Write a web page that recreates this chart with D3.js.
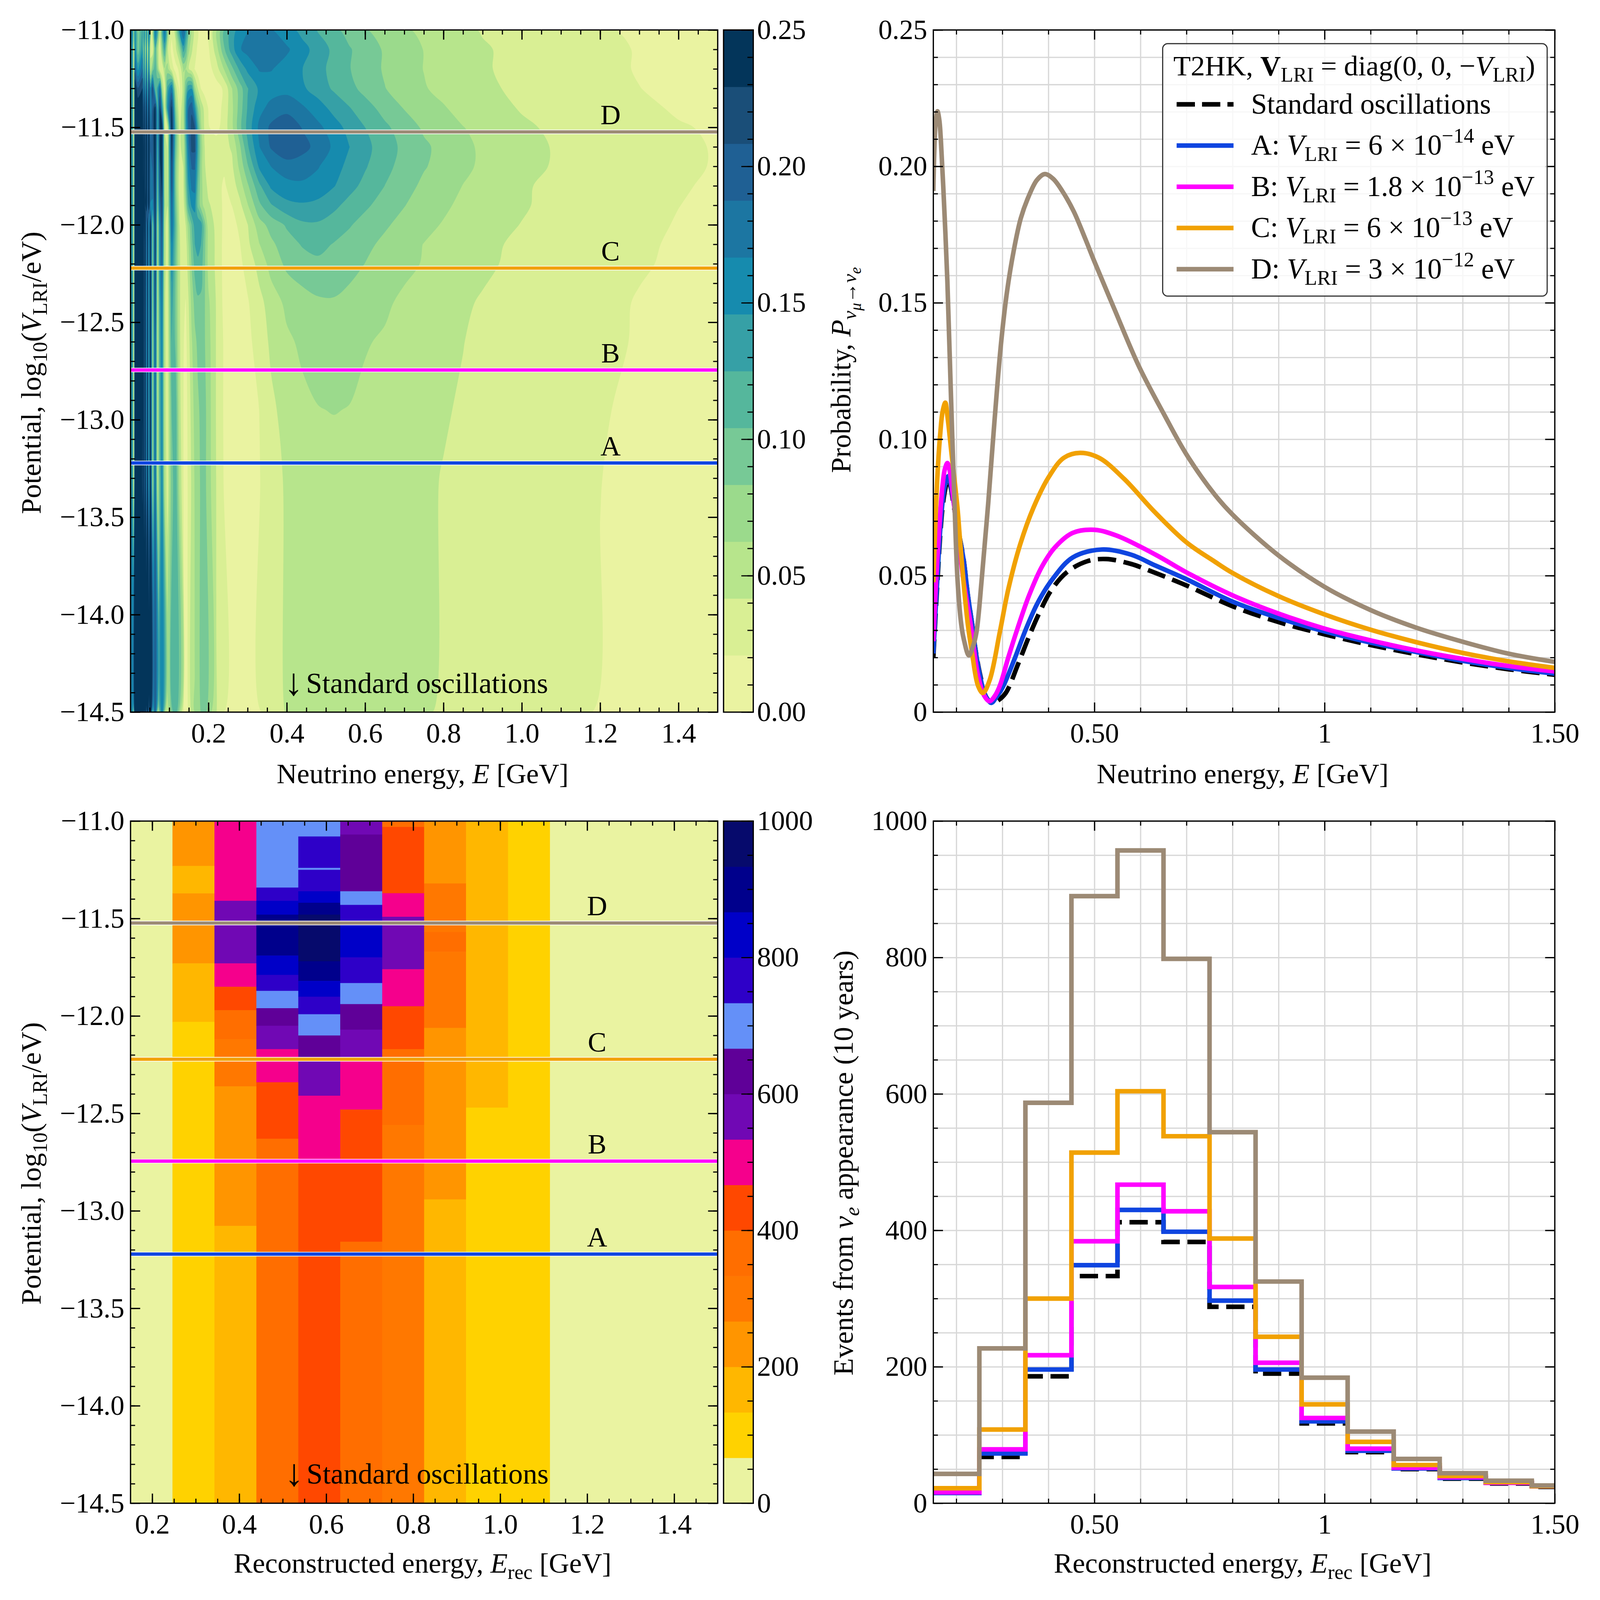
<!DOCTYPE html>
<html>
<head>
<meta charset="utf-8">
<script src="https://d3js.org/d3.v7.min.js"></script>
<style>
html, body { margin: 0; padding: 0; background: #fff; overflow: hidden; }
svg { display: block; width: 100vmin; height: 100vmin; }
text { font-family: "Liberation Serif", serif; fill: #000; }
</style>
</head>
<body>
<div id="vis"></div>
<script>
//DATA

// top left: P(nu_mu -> nu_e) x 1000 read on a grid of energy nodes and potential rows
const probEnergies = [0.001,0.004,0.0065,0.0095,0.012,0.02,0.0318,0.0338,0.0359,0.0385,0.0415,0.0445,0.0476,0.052,0.0573,0.064,0.07,0.076,0.0815,0.088,0.0955,0.106,0.116,0.126,0.136,0.142,0.148,0.157,0.165,0.173,0.181,0.19,
  0.20,0.22,0.24,0.26,0.28,0.30,0.33,0.36,0.40,0.44,0.48,0.52,0.56,0.60,0.65,0.70,0.75,0.80,0.85,0.90,1.0,1.1,1.2,1.3,1.4,1.5];
const probPotentials = [-11,-11.1,-11.2,-11.3,-11.4,-11.5,-11.6,-11.7,-11.8,-11.9,-12,-12.1,-12.2,-12.4,-12.6,-12.95,-13.3,-14.5];
const probGrid = [
  [40,170,130,25,150,70,130,50,160,40,150,35,170,45,20,175,120,22,100,180,70,15,50,140,195,150,95,50,35,20,12,10, 18,58,104,135,155,166,182,168,154,139,123,109,96,85,74,65,58,52,46,40,33,27,22,19,16,14],
  [40,170,130,25,170,90,150,60,170,50,160,40,160,35,25,120,60,18,80,130,45,14,35,75,135,110,72,45,30,16,10,9, 18,52,101,137,165,174,182,180,170,153,137,120,106,94,81,71,62,55,49,44,35,28,24,20,17,15],
  [40,170,130,25,200,140,190,90,190,80,190,70,180,50,90,120,80,25,22,60,70,30,14,25,65,62,45,30,20,10,7,7, 12,32,64,99,130,151,169,168,158,146,132,118,105,94,81,71,62,55,49,44,35,28,24,20,17,15],
  [40,170,130,25,255,210,230,140,230,130,230,120,230,150,220,110,130,190,70,24,130,175,50,17,50,100,140,145,70,40,20,12, 9,12,24,62,94,124,150,157,160,149,136,122,110,98,84,74,64,57,51,46,37,30,25,21,18,15],
  [40,170,130,25,260,250,250,190,250,180,250,160,250,160,200,240,120,235,150,35,150,235,85,24,60,130,185,205,150,85,55,35, 19,12,26,58,93,127,160,174,180,170,155,139,126,112,97,82,71,64,56,51,40,33,28,24,19,17],
  [40,170,130,25,260,260,255,210,255,200,255,190,255,180,205,255,125,235,250,40,40,250,110,36,55,130,185,215,210,120,65,38, 22,14,30,58,98,132,172,192,204,186,172,155,139,125,108,95,80,72,63,57,45,37,30,26,22,19],
  [40,170,130,25,260,260,255,225,255,215,255,200,255,190,200,255,120,235,250,48,40,240,105,40,45,110,170,215,215,130,75,42, 28,30,36,44,80,122,166,190,205,195,180,163,146,131,114,99,87,77,69,58,48,39,32,28,23,20],
  [40,170,130,25,260,265,255,225,255,215,255,200,255,180,190,250,110,225,245,55,40,225,90,34,42,100,155,190,190,120,70,44, 30,28,24,38,68,102,150,167,178,176,168,154,140,127,110,97,85,76,67,59,47,39,32,28,23,20],
  [40,170,130,25,260,265,250,230,250,220,255,200,255,175,180,245,100,215,235,60,40,215,90,30,40,90,140,172,175,105,70,50, 36,28,18,30,52,80,121,150,160,163,158,147,132,119,104,91,79,71,62,55,44,36,30,26,22,19],
  [40,170,130,25,260,265,240,235,250,225,255,195,255,165,160,240,90,195,225,65,42,195,100,36,32,70,120,150,152,100,72,55, 44,34,16,21,36,61,100,123,140,143,140,130,118,108,95,84,74,66,58,52,44,34,29,25,21,18],
  [40,170,130,25,260,265,245,250,225,255,170,250,150,255,90,240,65,170,215,50,30,185,110,42,30,42,70,105,135,140,135,92, 50,38,15,14,25,41,75,91,107,121,122,115,106,96,86,77,68,61,55,50,41,33,28,24,20,17],
  [40,170,130,25,260,265,245,250,215,255,165,250,145,255,85,240,62,165,205,50,32,165,105,44,28,32,58,95,125,130,125,90, 55,38,14,11,20,37,62,79,95,106,110,103,96,88,79,70,62,56,51,46,38,32,27,23,19,17],
  [40,170,130,25,260,265,245,250,215,255,160,250,140,255,80,235,58,160,195,48,33,155,100,45,25,28,50,85,112,122,115,88, 55,38,14,9,17,28,50,70,88,95,100,97,90,83,75,68,61,55,50,45,37,31,26,22,19,16],
  [40,170,130,25,260,265,240,250,210,255,150,250,135,255,75,225,52,140,175,45,30,135,95,45,24,20,36,70,90,100,100,85, 66,40,15,7,12,19,35,52,67,75,80,81,77,72,66,58,53,48,44,40,33,28,24,20,17,15],
  [40,170,130,25,260,265,235,255,205,255,150,250,135,255,70,205,50,130,165,48,28,125,100,46,22,16,30,60,78,88,95,85, 70,40,18,6,10,16,29,46,59,66,69,70,68,64,60,54,50,46,42,38,32,27,23,20,17,15],
  [40,170,130,25,260,265,230,255,200,260,150,255,130,255,70,200,50,125,160,50,28,105,118,50,21,14,25,50,70,80,88,90, 72,40,18,7,8,14,21,37,50,58,62,63,62,58,54,50,46,43,40,36,30,25,22,18,16,14],
  [40,170,130,25,260,265,225,265,190,265,155,265,130,260,70,195,50,115,160,60,28,95,120,60,21,13,23,45,65,78,86,90, 72,41,19,8,7,12,20,32,45,52,55,56,55,53,50,47,44,41,38,34,29,24,21,18,15,13],
  [40,170,130,25,255,270,225,265,185,265,155,265,130,260,70,195,50,95,160,62,28,90,122,60,21,12,21,44,62,75,84,91, 72,42,20,10,8,11,19,29,43,50,54,56,55,52,49,46,43,40,37,33,28,24,20,17,15,13]
];
const probColors = ["#EAF3A1","#D9EF94","#B7E58C","#9BDA8C","#77C996","#55B79C","#36A0A6","#168BAE","#1C76A2","#1F6094","#1A4E78","#03355A"];

// the four benchmark potentials in eV
const lriNames = ["A","B","C","D"];
const lriValues = [6e-14,1.8e-13,6e-13,3e-12];
const lriColors = ["#0F45E0","#FF00FF","#F1A102","#9C8A75"];

// top right: probability curves, [E, P]
const stdCurve = [[0.15,0.02],[0.155,0.036],[0.16,0.051],[0.165,0.065],[0.17,0.075],[0.175,0.081],[0.18,0.0845],[0.1827,0.085],[0.187,0.083],[0.195,0.075],[0.205,0.066],[0.2156,0.0562],[0.225,0.0428],[0.2344,0.0321],[0.2405,0.0241],[0.2521,0.0134],[0.265,0.0055],[0.2785,0.0033],[0.29,0.0042],[0.3072,0.007],[0.3343,0.0177],[0.358,0.0278],[0.3817,0.0369],[0.4054,0.0445],[0.4402,0.0513],[0.4843,0.0553],[0.5257,0.0561],[0.5798,0.0543],[0.6112,0.0524],[0.7,0.0464],[0.8,0.0388],[0.9,0.033],[1,0.0285],[1.1,0.0246],[1.2,0.0212],[1.3,0.0182],[1.4,0.0157],[1.5,0.0137]];
const curveA = [[0.15,0.0215],[0.155,0.038],[0.16,0.053],[0.165,0.067],[0.17,0.077],[0.175,0.083],[0.18,0.086],[0.1827,0.0865],[0.187,0.084],[0.195,0.076],[0.205,0.066],[0.2156,0.056],[0.225,0.043],[0.2344,0.032],[0.2405,0.024],[0.25,0.0145],[0.262,0.0065],[0.2758,0.0034],[0.287,0.0055],[0.3006,0.0091],[0.326,0.0193],[0.3513,0.0305],[0.3768,0.0401],[0.4087,0.0487],[0.4529,0.0567],[0.5163,0.0596],[0.5798,0.0577],[0.6327,0.0537],[0.7,0.0487],[0.8,0.0405],[0.9,0.0345],[1,0.0296],[1.1,0.0255],[1.2,0.022],[1.3,0.0188],[1.4,0.0162],[1.5,0.0141]];
const curveB = [[0.15,0.026],[0.155,0.045],[0.16,0.06],[0.165,0.073],[0.17,0.083],[0.175,0.089],[0.1805,0.0913],[0.185,0.089],[0.192,0.08],[0.2,0.069],[0.2157,0.0481],[0.2311,0.0321],[0.2471,0.0134],[0.26,0.0062],[0.2719,0.004],[0.283,0.0058],[0.2945,0.0097],[0.3133,0.0203],[0.3326,0.0305],[0.358,0.0428],[0.3861,0.0534],[0.4148,0.0605],[0.4529,0.0657],[0.5,0.0668],[0.5478,0.0647],[0.6327,0.0577],[0.7,0.0512],[0.8,0.0428],[0.9,0.0361],[1,0.0306],[1.1,0.0263],[1.2,0.0226],[1.3,0.0195],[1.4,0.0169],[1.5,0.0149]];
const curveC = [[0.15,0.0476],[0.155,0.072],[0.16,0.09],[0.165,0.102],[0.17,0.11],[0.176,0.1134],[0.181,0.108],[0.19,0.094],[0.2024,0.0749],[0.2074,0.0642],[0.2154,0.0481],[0.225,0.0321],[0.2344,0.0214],[0.2471,0.0097],[0.2576,0.007],[0.2725,0.0118],[0.2945,0.0294],[0.3133,0.0454],[0.3387,0.0615],[0.3674,0.0749],[0.4008,0.0862],[0.4335,0.0932],[0.4684,0.095],[0.51,0.0932],[0.5644,0.0855],[0.63,0.0735],[0.7,0.0622],[0.76,0.0553],[0.8,0.051],[0.9,0.0425],[1,0.0358],[1.1,0.0302],[1.2,0.0256],[1.3,0.0217],[1.4,0.0186],[1.5,0.0162]];
const curveD = [[0.15,0.191],[0.152,0.205],[0.155,0.216],[0.159,0.2202],[0.163,0.217],[0.1664,0.2095],[0.174,0.1837],[0.1805,0.1579],[0.188,0.1175],[0.1963,0.0749],[0.2027,0.0481],[0.2107,0.0321],[0.2162,0.0267],[0.2272,0.0208],[0.236,0.024],[0.2438,0.0294],[0.2548,0.0481],[0.263,0.0642],[0.2692,0.0765],[0.283,0.107],[0.297,0.135],[0.31,0.154],[0.3245,0.169],[0.34,0.181],[0.357,0.189],[0.375,0.195],[0.392,0.1972],[0.41,0.1955],[0.43,0.191],[0.455,0.1835],[0.48,0.1735],[0.499,0.1655],[0.5426,0.148],[0.597,0.1266],[0.6516,0.109],[0.7,0.0944],[0.76,0.08],[0.8,0.0724],[0.9,0.0574],[1,0.0459],[1.1,0.0374],[1.2,0.0309],[1.3,0.0258],[1.4,0.0214],[1.5,0.0184]];

// bottom left: each reconstructed energy bin, stack of [lower edge in log10 V, events]
const rateEdges = [0.15,0.2464,0.3429,0.4393,0.5357,0.6321,0.7286,0.825,0.9214,1.0179,1.1143,1.2107,1.3071,1.4036,1.5];
const rateColumns = [
  [[-14.5,33]],
  [[-11.23,233],[-11.371,167],[-11.73,233],[-12.03,167],[-14.5,100]],
  [[-11.409,500],[-11.73,567],[-11.85,500],[-11.97,433],[-12.119,367],[-12.361,300],[-13.077,233],[-14.5,167]],
  [[-11.341,700],[-11.409,767],[-11.48,833],[-11.69,900],[-11.789,833],[-11.871,767],[-11.96,700],[-12.05,633],[-12.17,567],[-12.34,500],[-12.63,433],[-14.5,367]],
  [[-11.079,700],[-11.24,767],[-11.25,700],[-11.36,767],[-11.419,833],[-11.48,900],[-11.719,967],[-11.82,900],[-11.901,833],[-11.991,767],[-12.1,700],[-12.23,633],[-12.409,567],[-12.75,500],[-14.5,433]],
  [[-11.069,567],[-11.36,633],[-11.43,700],[-11.52,767],[-11.699,833],[-11.831,767],[-11.939,700],[-12.07,633],[-12.226,567],[-12.48,500],[-13.158,433],[-14.5,367]],
  [[-11.03,367],[-11.37,433],[-11.491,500],[-11.76,567],[-11.95,500],[-12.17,433],[-12.559,367],[-14.5,300]],
  [[-11.32,233],[-11.569,300],[-11.67,367],[-12.061,300],[-12.941,233],[-14.5,167]],
  [[-12.47,167],[-14.5,100]],
  [[-14.5,100]],
  [[-14.5,33]],
  [[-14.5,33]],
  [[-14.5,33]],
  [[-14.5,33]]
];
const rateColors = ["#EAF3A1","#FFD200","#FFB700","#FF9500","#FF7800","#FF6E00","#FF4800","#F5008C","#7008B4","#5F0098","#6490F8","#2E00C8","#0000C8","#00008C","#060A6C"];

// bottom right: events per bin
const eventEdges = [0.15,0.25,0.35,0.45,0.55,0.65,0.75,0.85,0.95,1.05,1.15,1.25,1.35,1.45];
const eventsStd = [16,68,186,333,412,383,288,190,117,75,50,36,29,24];
const eventsA = [15,73,196,349,430,398,297,196,120,77,51,37,30,25];
const eventsB = [16,79,217,384,467,428,317,206,125,80,52,38,30,25];
const eventsC = [22,108,300,514,604,538,388,244,145,90,56,40,31,25];
const eventsD = [43,227,587,890,957,798,544,325,184,105,65,44,33,26];

// tick values
const potMajor = [-11,-11.5,-12,-12.5,-13,-13.5,-14,-14.5];
const potMinor = d3.range(-145,-109,1).map(d => d/10);
const heatXMajor = [0.2,0.4,0.6,0.8,1.0,1.2,1.4];
const heatXMinor = d3.range(1,30).map(d => d*0.05);
const rateXMinor = d3.range(4,30).map(d => d*0.05);
const lineXMajor = [0.5,1,1.5];
const lineXMinor = [0.2,0.3,0.4,0.6,0.7,0.8,0.9,1.1,1.2,1.3,1.4];
const probMajor = [0,0.05,0.10,0.15,0.20,0.25];
const probMinor = d3.range(0,26).map(d => d/100);
const evMajor = [0,200,400,600,800,1000];
const evMinor = d3.range(0,21).map(d => d*50);

//SVG AND PANELS
const svg = d3.select("#vis").append("svg").attr("viewBox","0 0 6300 6300");
const heatW = 2312, lineW = 2447, panH = 2686;
const barW = 117;
const panelA = svg.append("g").attr("transform","translate(514,118)");
const panelB = svg.append("g").attr("transform","translate(3675,118)");
const panelC = svg.append("g").attr("transform","translate(514,3233)");
const panelD = svg.append("g").attr("transform","translate(3675,3233)");

const xProb = d3.scaleLinear().domain([0.001,1.5]).range([0,heatW]);
const xRate = d3.scaleLinear().domain([0.15,1.5]).range([0,heatW]);
const yPot = d3.scaleLinear().domain([-11,-14.5]).range([0,panH]);
const xLine = d3.scaleLinear().domain([0.15,1.5]).range([0,lineW]);
const yProb = d3.scaleLinear().domain([0,0.25]).range([panH,0]);
const yEv = d3.scaleLinear().domain([0,1000]).range([panH,0]);

const defs = svg.append("defs");
defs.append("clipPath").attr("id","clipLine").append("rect").attr("width",lineW).attr("height",panH);
defs.append("clipPath").attr("id","clipHeat").append("rect").attr("width",heatW).attr("height",panH);

//TEXT WITH SUB AND SUPERSCRIPTS
const levels = {
  "": {dy:0,s:1}, i:{dy:0,s:1,i:1}, b:{dy:0,s:1,b:1},
  s:{dy:0.22,s:0.72}, si:{dy:0.22,s:0.72,i:1},
  ss:{dy:0.38,s:0.55,i:1}, S:{dy:-0.42,s:0.72}
};
function rich(g, x, y, parts, size, anchor, rot) {
  const t = g.append("text").attr("font-size",size).attr("text-anchor",anchor || "start")
    .attr("transform",`translate(${x},${y})` + (rot ? " rotate(-90)" : ""));
  let cur = 0;
  parts.forEach(p => {
    const txt = typeof p === "string" ? p : p[0];
    const st = levels[typeof p === "string" ? "" : p[1]];
    const shift = st.dy*size;
    t.append("tspan").attr("dy",shift-cur).attr("font-size",size*st.s)
      .attr("font-style",st.i ? "italic" : "normal")
      .attr("font-weight",st.b ? "bold" : "normal")
      .attr("xml:space","preserve").text(txt);
    cur = shift;
  });
  return t;
}

//AXES
function styleAxis(g, w) {
  g.select(".domain").remove();
  g.attr("font-family",null).attr("font-size",null);
  g.selectAll(".tick line").attr("stroke","#000").attr("stroke-width",w);
  g.selectAll(".tick text").attr("font-size",110);
}
function ticks(g, x, y, w, h, xMaj, xMin, yMaj, yMin, xFmt, yFmt) {
  const maj = 38, mn = 18;
  g.append("g").attr("transform",`translate(0,${h})`)
    .call(d3.axisBottom(x).tickValues(xMin).tickSize(-mn).tickFormat("")).call(styleAxis,4.5);
  g.append("g").call(d3.axisTop(x).tickValues(xMin).tickSize(-mn).tickFormat("")).call(styleAxis,4.5);
  g.append("g").call(d3.axisLeft(y).tickValues(yMin).tickSize(-mn).tickFormat("")).call(styleAxis,4.5);
  g.append("g").attr("transform",`translate(${w},0)`)
    .call(d3.axisRight(y).tickValues(yMin).tickSize(-mn).tickFormat("")).call(styleAxis,4.5);
  g.append("g").attr("transform",`translate(0,${h})`)
    .call(d3.axisBottom(x).tickValues(xMaj).tickSize(-maj).tickPadding(42).tickFormat(xFmt)).call(styleAxis,5);
  g.append("g").call(d3.axisTop(x).tickValues(xMaj).tickSize(-maj).tickFormat("")).call(styleAxis,5);
  g.append("g").call(d3.axisLeft(y).tickValues(yMaj).tickSize(-maj).tickPadding(24).tickFormat(yFmt)).call(styleAxis,5);
  g.append("g").attr("transform",`translate(${w},0)`)
    .call(d3.axisRight(y).tickValues(yMaj).tickSize(-maj).tickFormat("")).call(styleAxis,5);
  g.append("rect").attr("width",w).attr("height",h).attr("fill","none").attr("stroke","#000").attr("stroke-width",5);
}
function grid(g, x, y, w, h, xVals, yVals) {
  const gl = g.append("g");
  gl.append("g").attr("transform",`translate(0,${h})`)
    .call(d3.axisBottom(x).tickValues(xVals).tickSize(-h).tickFormat("")).call(styleAxis,5);
  gl.append("g").call(d3.axisLeft(y).tickValues(yVals).tickSize(-w).tickFormat("")).call(styleAxis,5);
  gl.selectAll(".tick line").attr("stroke","#D8D8D8");
}
const fmtPot = d => d.toFixed(1).replace("-","\u2212");
const fmtHeat = d => d.toFixed(1);
const fmtLineX = d => d === 1 ? "1" : d.toFixed(2);

function colorbar(g, bands, domain, major, minor, fmt) {
  const y = d3.scaleLinear().domain(domain).range([panH,0]);
  const cb = g.append("g").attr("transform",`translate(${2849-514},0)`);
  const step = (domain[1]-domain[0])/bands.length;
  cb.selectAll("rect").data(bands).join("rect")
    .attr("width",barW).attr("fill",d => d)
    .attr("y",(d,i) => y(domain[0]+(i+1)*step))
    .attr("height",(d,i) => y(domain[0]+i*step)-y(domain[0]+(i+1)*step)+1);
  cb.append("g").attr("transform",`translate(${barW},0)`)
    .call(d3.axisRight(y).tickValues(minor).tickSize(-23).tickFormat("")).call(styleAxis,4.5);
  cb.append("g").attr("transform",`translate(${barW},0)`)
    .call(d3.axisRight(y).tickValues(major).tickSize(-47).tickPadding(15).tickFormat(fmt)).call(styleAxis,4.5);
  cb.append("rect").attr("width",barW).attr("height",panH).attr("fill","none").attr("stroke","#000").attr("stroke-width",5);
}

function lriLines(g, labelX) {
  const row = g.append("g").attr("clip-path","url(#clipHeat)");
  lriValues.forEach((v,i) => {
    const yy = yPot(Math.log10(v));
    row.append("line").attr("x2",heatW).attr("y1",yy).attr("y2",yy).attr("stroke","#fff").attr("stroke-width",18);
    row.append("line").attr("x2",heatW).attr("y1",yy).attr("y2",yy).attr("stroke",lriColors[i]).attr("stroke-width",13);
    g.append("text").attr("x",labelX).attr("y",yy-30).attr("text-anchor","middle").attr("font-size",110).text(lriNames[i]);
  });
}
function stdNote(g, x, y) {
  g.append("text").attr("x",x-8).attr("y",y+8).attr("font-size",150).text("\u2193");
  g.append("text").attr("x",x+78).attr("y",y).attr("font-size",114).text("Standard oscillations");
}

//TOP LEFT: FILLED CONTOURS
const colE = d3.scaleLinear().domain(d3.range(probEnergies.length)).range(probEnergies).clamp(true);
const rowV = d3.scaleLinear().domain(d3.range(probPotentials.length)).range(probPotentials).clamp(true);
const ringLine = d3.line().curve(d3.curveCatmullRomClosed.alpha(0.5));
function contourD(c) {
  return c.coordinates.map(poly => poly.map(ring =>
    ringLine(ring.slice(0,-1).map(p => [xProb(colE(p[0]-0.5)), yPot(rowV(p[1]-0.5))]))
  ).join("")).join("");
}
const probStep = 250/probColors.length;
const probLevels = d3.range(1,probColors.length).map(i => i*probStep);
const contours = d3.contours().size([probEnergies.length,probPotentials.length]).smooth(true)
  .thresholds(probLevels)(probGrid.flat());

panelA.append("rect").attr("width",heatW).attr("height",panH).attr("fill",probColors[0]);
panelA.append("g").attr("clip-path","url(#clipHeat)").selectAll("path").data(contours).join("path")
  .attr("d",contourD)
  .attr("fill",(d,i) => probColors[i+1]);
lriLines(panelA,1890);
ticks(panelA,xProb,yPot,heatW,panH,heatXMajor,heatXMinor,potMajor,potMinor,fmtHeat,fmtPot);
colorbar(panelA,probColors,[0,0.25],[0,0.05,0.10,0.15,0.20,0.25],d3.range(0,26).map(d => d/100),d => d.toFixed(2));
stdNote(panelA,613,2610);

//BOTTOM LEFT: BINNED RATES
const rateColor = d3.scaleQuantize().domain([0,1000]).range(rateColors);
const rateCol = panelC.append("g").selectAll("g").data(rateColumns).join("g");
rateCol.each(function(col,i) {
  let upper = -11;
  col.forEach(seg => {
    d3.select(this).append("rect")
      .attr("x",xRate(rateEdges[i]))
      .attr("width",xRate(rateEdges[i+1])-xRate(rateEdges[i])+1)
      .attr("y",yPot(upper))
      .attr("height",yPot(seg[0])-yPot(upper)+1)
      .attr("fill",rateColor(seg[1]));
    upper = seg[0];
  });
});
lriLines(panelC,1837);
ticks(panelC,xRate,yPot,heatW,panH,heatXMajor,rateXMinor,potMajor,potMinor,fmtHeat,fmtPot);
colorbar(panelC,rateColors,[0,1000],evMajor,evMinor,d => d);
stdNote(panelC,615,2609);

//TOP RIGHT: PROBABILITY CURVES
grid(panelB,xLine,yProb,lineW,panH,lineXMajor.concat(lineXMinor),probMinor);
const probLine = d3.line().x(d => xLine(d[0])).y(d => yProb(d[1])).curve(d3.curveCatmullRom.alpha(0.5));
const curveG = panelB.append("g").attr("clip-path","url(#clipLine)").attr("fill","none");
curveG.append("path").attr("d",probLine(stdCurve)).attr("stroke","#000").attr("stroke-width",18).attr("stroke-dasharray","72,30");
[curveA,curveB,curveC,curveD].forEach((c,i) => {
  curveG.append("path").attr("d",probLine(c)).attr("stroke",lriColors[i]).attr("stroke-width",18);
});
ticks(panelB,xLine,yProb,lineW,panH,lineXMajor,lineXMinor,probMajor,probMinor,fmtLineX,d => d === 0 ? "0" : d.toFixed(2));

// legend
const lg = panelB.append("g").attr("transform",`translate(${4578-3675},${172-118})`);
lg.append("rect").attr("width",1514).attr("height",994).attr("rx",20)
  .attr("fill","#fff").attr("fill-opacity",0.8).attr("stroke","#333").attr("stroke-width",4.5);
rich(lg,42,125,["T2HK, ",["V","b"],["LRI","s"]," = diag(0, 0, \u2212",["V","i"],["LRI","s"],")"],112);
const legendRows = [
  ["Standard oscillations"],
  ["A: ",["V","i"],["LRI","s"]," = 6 \u00d7 10",["\u221214","S"]," eV"],
  ["B: ",["V","i"],["LRI","s"]," = 1.8 \u00d7 10",["\u221213","S"]," eV"],
  ["C: ",["V","i"],["LRI","s"]," = 6 \u00d7 10",["\u221213","S"]," eV"],
  ["D: ",["V","i"],["LRI","s"]," = 3 \u00d7 10",["\u221212","S"]," eV"]
];
const legendY = d3.scaleLinear().domain([0,4]).range([239,888]);
legendRows.forEach((parts,i) => {
  const yy = legendY(i);
  const hd = lg.append("line").attr("x1",55).attr("x2",279).attr("y1",yy).attr("y2",yy).attr("stroke-width",18)
    .attr("stroke",i === 0 ? "#000" : lriColors[i-1]);
  if (i === 0) hd.attr("stroke-dasharray","72,28");
  rich(lg,348,yy+36,parts,113);
});

//BOTTOM RIGHT: EVENT HISTOGRAMS
grid(panelD,xLine,yEv,lineW,panH,lineXMajor.concat(lineXMinor),evMinor);
const stepLine = d3.line().x(d => xLine(d[0])).y(d => yEv(d[1])).curve(d3.curveStepAfter);
const histG = panelD.append("g").attr("clip-path","url(#clipLine)").attr("fill","none");
function hist(vals) {
  const pts = eventEdges.map((e,i) => [e,vals[i]]);
  pts.push([1.5,vals[vals.length-1]]);
  return stepLine(pts);
}
histG.append("path").attr("d",hist(eventsStd)).attr("stroke","#000").attr("stroke-width",18).attr("stroke-dasharray","72,30");
[eventsA,eventsB,eventsC,eventsD].forEach((v,i) => {
  histG.append("path").attr("d",hist(v)).attr("stroke",lriColors[i]).attr("stroke-width",18);
});
ticks(panelD,xLine,yEv,lineW,panH,lineXMajor,lineXMinor,evMajor,evMinor,fmtLineX,d => d);

//AXIS TITLES
const potLabel = ["Potential, log",["10","s"],"(",["V","i"],["LRI","s"],"/eV)"];
rich(svg,1664,3084,["Neutrino energy, ",["E","i"]," [GeV]"],111,"middle");
rich(svg,4893,3084,["Neutrino energy, ",["E","i"]," [GeV]"],111,"middle");
rich(svg,1664,6193,["Reconstructed energy, ",["E","i"],["rec","s"]," [GeV]"],111,"middle");
rich(svg,4893,6193,["Reconstructed energy, ",["E","i"],["rec","s"]," [GeV]"],111,"middle");
rich(svg,160,1468,potLabel,112,"middle",true);
rich(svg,160,4581,potLabel,112,"middle",true);
rich(svg,3348,1457,["Probability, ",["P","i"],["\u03bd","si"],["\u03bc","ss"],["\u2192\u03bd","si"],["e","ss"]],110,"middle",true);
rich(svg,3358,4579,["Events from ",["\u03bd","i"],["e","si"]," appearance (10 years)"],112,"middle",true);
</script>
</body>
</html>
